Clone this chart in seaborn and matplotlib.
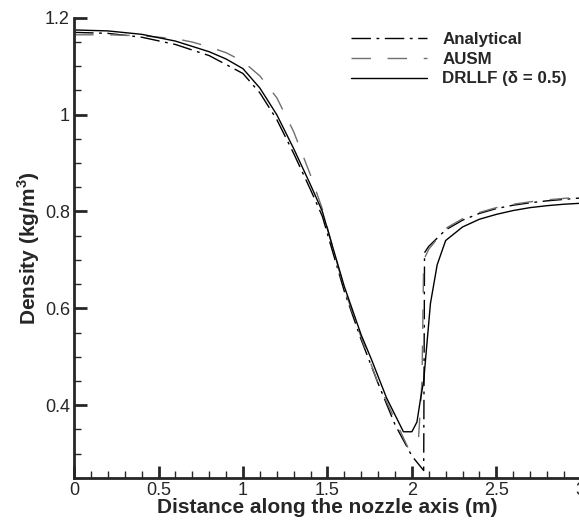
import numpy as np
import pandas as pd
import matplotlib
matplotlib.use('Agg')
import matplotlib.pyplot as plt
from matplotlib.ticker import MultipleLocator
import seaborn as sns

# density along the nozzle axis
x_an = [0, 0.2, 0.4, 0.6, 0.8, 1.0, 1.1, 1.2, 1.3, 1.4, 1.47, 1.52, 1.6, 1.7, 1.8, 1.9, 2.0, 2.07,
        2.075, 2.1, 2.2, 2.3, 2.4, 2.5, 2.6, 2.7, 2.8, 2.9, 3.0]
rho_an = [1.17, 1.168, 1.16, 1.145, 1.122, 1.085, 1.045, 0.99, 0.92, 0.845, 0.79, 0.73, 0.635, 0.535, 0.445, 0.36, 0.295, 0.265,
          0.715, 0.728, 0.762, 0.782, 0.796, 0.806, 0.813, 0.818, 0.822, 0.825, 0.828]

x_ausm = [0, 0.2, 0.4, 0.6, 0.7, 0.8, 0.9, 1.0, 1.1, 1.2, 1.3, 1.4, 1.47, 1.52, 1.6, 1.7, 1.8, 1.9, 1.98, 2.04, 2.06,
          2.07, 2.1, 2.2, 2.3, 2.4, 2.5, 2.6, 2.7, 2.8, 2.9, 3.0]
rho_ausm = [1.165, 1.165, 1.163, 1.157, 1.15, 1.14, 1.128, 1.11, 1.08, 1.035, 0.965, 0.875, 0.805, 0.74, 0.64, 0.54, 0.445, 0.37, 0.31, 0.335, 0.45,
            0.70, 0.722, 0.765, 0.785, 0.798, 0.808, 0.815, 0.82, 0.824, 0.827, 0.83]

x_drllf = [0, 0.2, 0.4, 0.6, 0.8, 0.9, 1.0, 1.1, 1.2, 1.3, 1.4, 1.47, 1.52, 1.6, 1.7, 1.76, 1.85, 1.9, 1.95, 2.0, 2.03, 2.05, 2.07,
           2.11, 2.15, 2.2, 2.3, 2.4, 2.5, 2.6, 2.7, 2.8, 2.9, 3.0]
rho_drllf = [1.175, 1.173, 1.166, 1.152, 1.13, 1.115, 1.095, 1.055, 1.0, 0.93, 0.855, 0.80, 0.74, 0.645, 0.545, 0.495, 0.415, 0.38, 0.345, 0.345, 0.365, 0.41, 0.45,
             0.61, 0.69, 0.74, 0.768, 0.784, 0.794, 0.802, 0.808, 0.812, 0.815, 0.817]

sns.set_style('ticks')
plt.rcParams['font.family'] = ['Liberation Sans', 'DejaVu Sans']
plt.rcParams['mathtext.fontset'] = 'custom'
plt.rcParams['mathtext.rm'] = 'Liberation Sans'
plt.rcParams['mathtext.bf'] = 'Liberation Sans:bold'

fig = plt.figure(figsize=(5.79, 5.25), dpi=100)
ax = fig.add_axes([0.128, 0.09, 0.875, 0.876])

sns.lineplot(x=x_an, y=rho_an, ax=ax, color='black', lw=1, sort=False, estimator=None,
             label='Analytical')
sns.lineplot(x=x_ausm, y=rho_ausm, ax=ax, color='#707070', lw=1, sort=False, estimator=None,
             label='AUSM')
sns.lineplot(x=x_drllf, y=rho_drllf, ax=ax, color='black', lw=1, sort=False, estimator=None,
             label='DRLLF (δ = 0.5)')
lines = ax.get_lines()
lines[0].set_dashes([14, 4, 2, 4])
lines[1].set_dashes([14, 12])

ax.set_xlim(0, 3)
ax.set_ylim(0.25, 1.2)
ax.xaxis.set_major_locator(MultipleLocator(0.5))
ax.xaxis.set_minor_locator(MultipleLocator(0.1))
ax.yaxis.set_major_locator(MultipleLocator(0.2))
ax.yaxis.set_minor_locator(MultipleLocator(0.05))
ax.xaxis.set_major_formatter(plt.FuncFormatter(lambda v, p: f'{v:g}'))
ax.yaxis.set_major_formatter(plt.FuncFormatter(lambda v, p: f'{v:g}'))
ax.tick_params(which='major', direction='in', length=9, width=2, labelsize=13, pad=3)
ax.tick_params(which='minor', direction='in', length=5, width=1)
for s in ['top', 'right']:
    ax.spines[s].set_visible(False)
for s in ['left', 'bottom']:
    ax.spines[s].set_linewidth(2)

ax.set_xlabel('Distance along the nozzle axis (m)', fontsize=15, fontweight='bold', labelpad=-1)
ax.set_ylabel(r'Density (kg/m$^{\mathbf{3}}$)', fontsize=15, fontweight='bold', labelpad=2)

leg = ax.legend(loc='upper left', bbox_to_anchor=(0.594, 0.952), bbox_transform=fig.transFigure,
                frameon=False, handlelength=4.5, handletextpad=0.9, labelspacing=0.28,
                prop={'weight': 'bold', 'size': 12.2}, borderaxespad=0)

fig.savefig('out.png', dpi=100)
